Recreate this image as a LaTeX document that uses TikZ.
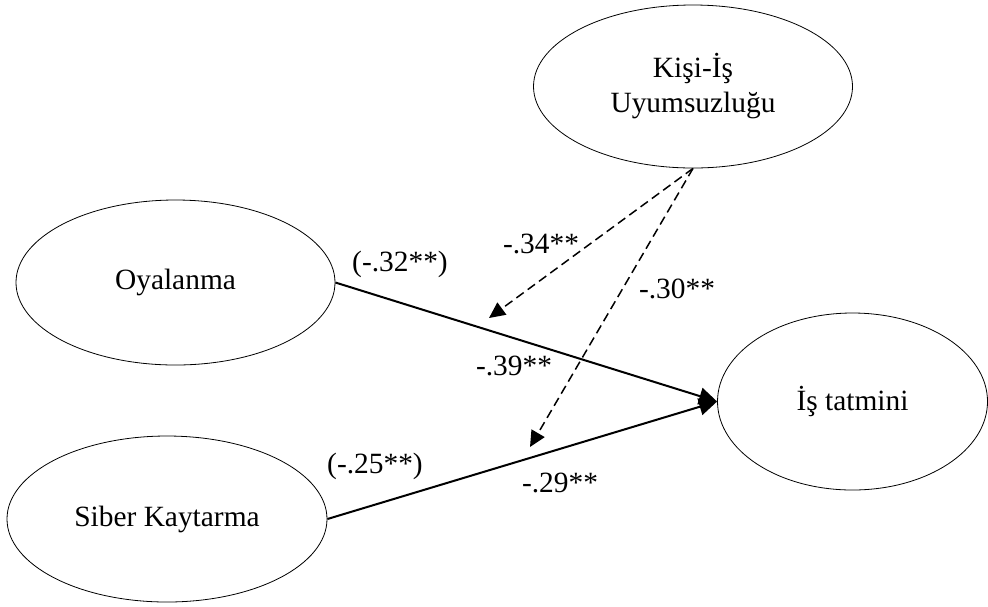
\documentclass[tikz,border=0pt]{standalone}
\usepackage{fontspec}
\setmainfont{Liberation Serif}
\usepackage{tikz}
\usetikzlibrary{arrows.meta,positioning,shapes.geometric}

\begin{document}
\begin{tikzpicture}[
        x=0.5pt, y=-0.5pt,
        latent/.style={draw, ellipse, line width=0.4pt, inner sep=0pt, align=center, font=\fontsize{14.7}{17.5}\selectfont},
        effect/.style={-{Triangle[length=9pt, width=8.5pt]}, line width=1pt},
        moder/.style={-{Triangle[length=8pt, width=7.5pt]}, line width=0.75pt, dash pattern=on 4.5pt off 2.5pt},
        coef/.style={font=\fontsize{14.7}{17.5}\selectfont}
    ]
    \useasboundingbox (0,0) rectangle (988,606);
    \node (oy) [latent, minimum width=159.5pt, minimum height=82.5pt] at (175.5,282.5) {Oyalanma};
    \node (sk) [latent, minimum width=160pt, minimum height=83pt] at (167,519) {Siber Kaytarma};
    \node (it) [latent, minimum width=135pt, minimum height=88.5pt] at (852.5,401.5) {İş tatmini};
    \node (ku) [latent, minimum width=159.5pt, minimum height=81.5pt] at (693,86.5) {Kişi-İş\\Uyumsuzluğu};

    \coordinate (m1) at (489,318);
    \coordinate (m2) at (530,447);

    \draw[effect] (oy.east) -- (it.west);
    \draw[effect] (sk.east) -- (it.west);
    \draw[moder] (ku.south) -- (m1);
    \draw[moder] (ku.south) -- (m2);

    \node (c1) [coef] at (400,264) {(-.32**)};
    \node (c2) [coef] at (541,244) {-.34**};
    \node (c3) [coef] at (677,289) {-.30**};
    \node (c4) [coef] at (514,366) {-.39**};
    \node (c5) [coef] at (375,466) {(-.25**)};
    \node (c6) [coef] at (560,483) {-.29**};
\end{tikzpicture}
\end{document}
